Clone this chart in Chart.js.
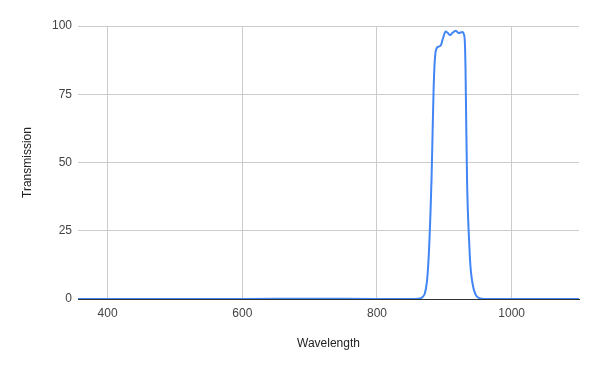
<!DOCTYPE html>
<html>
<head>
<meta charset="utf-8">
<script src="https://cdn.jsdelivr.net/npm/chart.js@4/dist/chart.umd.min.js"></script>
<style>
  html, body { margin: 0; padding: 0; background: #fff; }
  #wrap { width: 599px; height: 371px; position: relative; }
</style>
</head>
<body>
<div id="wrap"><canvas id="chart"></canvas></div>
<script>
// Filter transmission curve
const wavelengths = [356, 400, 500, 600, 700, 800, 850, 860, 865, 868, 871, 874, 876, 878, 879.5, 881, 882.5, 884, 885.5, 887, 889, 892, 895, 898, 902, 905, 908.5, 912, 917, 921.5, 924, 927, 929, 930.5, 931.5, 932.5, 933.8, 935, 936.3, 938, 939.5, 942, 945, 948, 952, 960, 1000, 1100];
const transmission = [0, 0, 0, 0, 0.1, 0, 0, 0.1, 0.3, 0.8, 2, 6, 12, 22, 32, 44, 60, 76, 86, 90.5, 92, 92.5, 93, 95.5, 98, 97.5, 96.7, 97.5, 98.3, 97.4, 97.6, 97.8, 97, 94, 84, 65, 43, 32, 24, 15, 10, 5.5, 2.5, 1, 0.3, 0, 0, 0];

const xTicks = [400, 600, 800, 1000];
const yTicks = [0, 25, 50, 75, 100];

const points = wavelengths.map((w, i) => ({ x: w, y: transmission[i] }));

const FONT = '"Liberation Sans", Arial, sans-serif';
Chart.defaults.font.family = FONT;
Chart.defaults.font.size = 12;
Chart.defaults.color = '#444';

new Chart(document.getElementById('chart').getContext('2d'), {
  type: 'line',
  data: {
    datasets: [{
      label: 'Transmission',
      data: points,
      borderColor: '#4285F4',
      borderWidth: 2,
      pointRadius: 0,
      fill: false,
      cubicInterpolationMode: 'monotone'
    }]
  },
  options: {
    responsive: true,
    maintainAspectRatio: false,
    animation: false,
    layout: { padding: { left: 0, right: 20, top: 26, bottom: 0 } },
    plugins: {
      legend: { display: false },
      tooltip: { enabled: false }
    },
    scales: {
      x: {
        type: 'linear',
        min: 356,
        max: 1100,
        afterBuildTicks: (scale) => { scale.ticks = xTicks.map(v => ({ value: v })); },
        afterFit: (scale) => { scale.height = 72; },
        ticks: { padding: 7, color: '#444', maxRotation: 0, callback: (v) => String(v) },
        grid: { color: '#ccc', drawTicks: false },
        border: { color: '#333', width: 1 },
        title: {
          display: true,
          text: 'Wavelength',
          color: '#222',
          padding: { top: 0, bottom: 20 }
        }
      },
      y: {
        min: 0,
        max: 100,
        afterBuildTicks: (scale) => { scale.ticks = yTicks.map(v => ({ value: v })); },
        afterFit: (scale) => { scale.width = 78; },
        ticks: { padding: 6, color: '#444', callback: (v) => String(v) },
        grid: { color: '#ccc', drawTicks: false },
        border: { display: false },
        title: {
          display: true,
          text: 'Transmission',
          color: '#222',
          padding: { top: 20, bottom: 0 }
        }
      }
    }
  }
});
</script>
</body>
</html>
